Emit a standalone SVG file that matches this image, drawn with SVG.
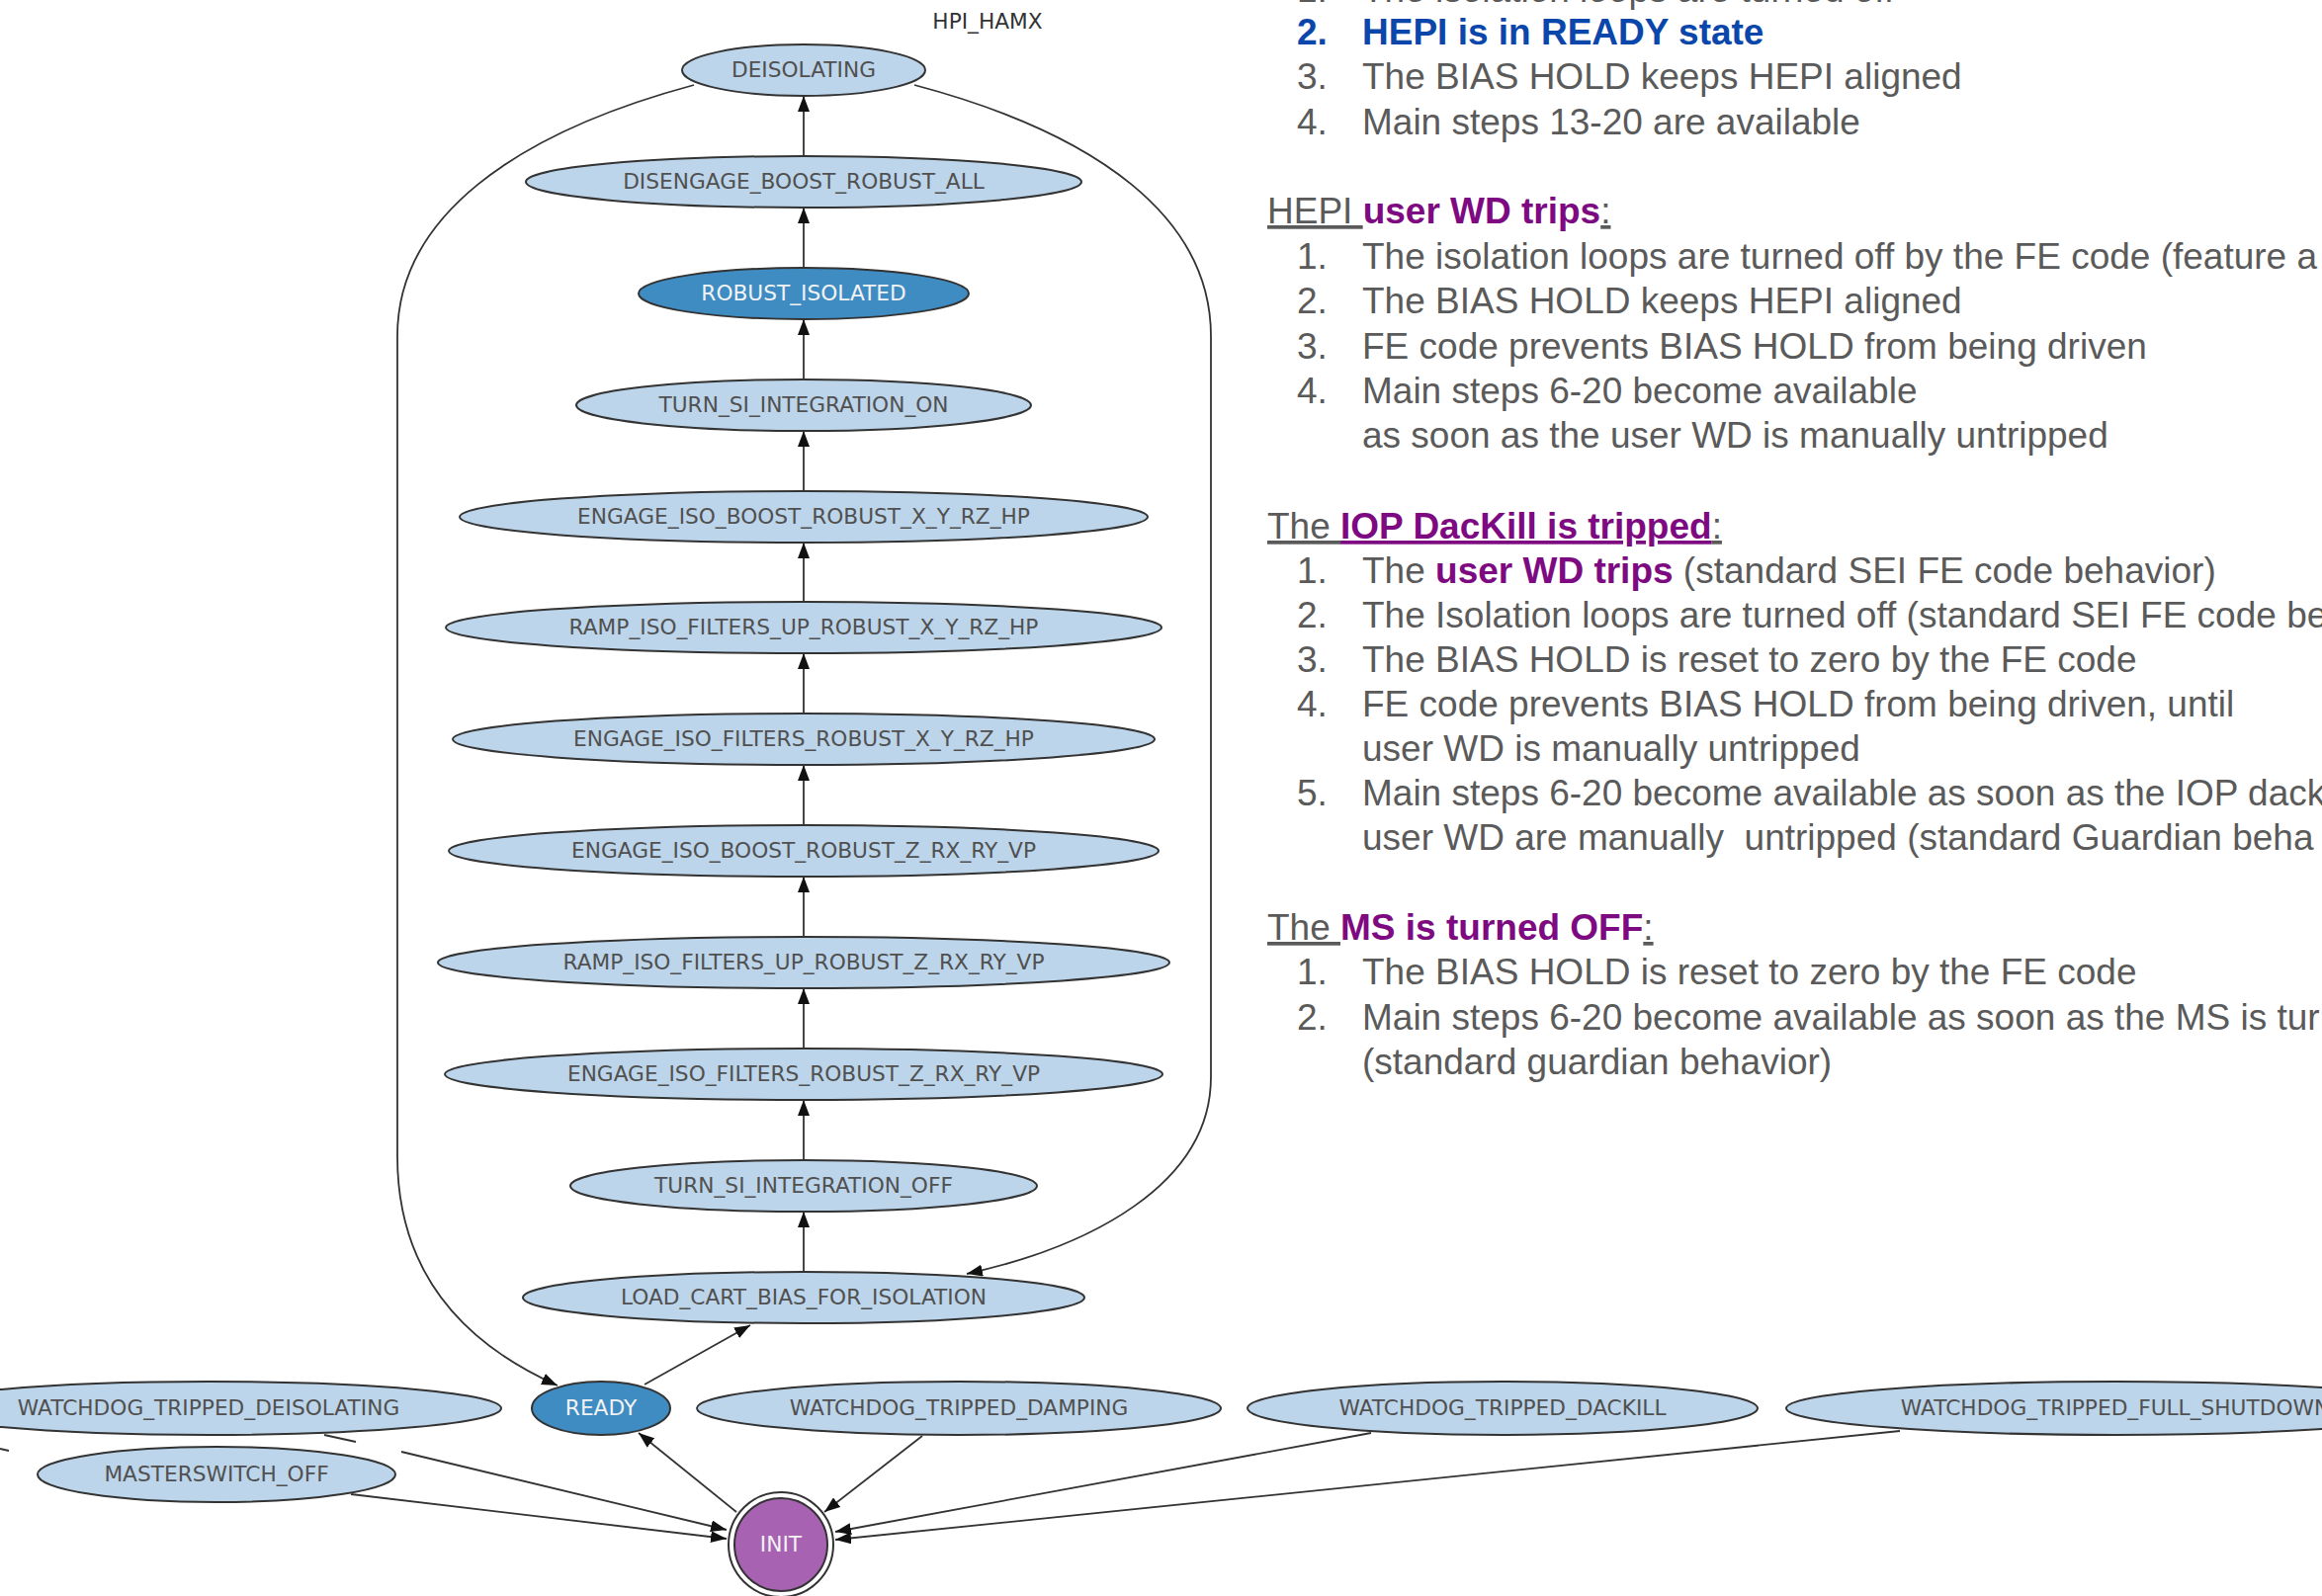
<svg xmlns="http://www.w3.org/2000/svg" width="2349" height="1615" viewBox="0 0 2349 1615">
  <style>
    .n ellipse, .n circle { stroke: #333; stroke-width: 2; }
    .lt { fill: #bcd5ea; }
    .dk { fill: #3f8cc3; }
    .pu { fill: #a862b2; }
    .lbl { font-family: "DejaVu Sans", Verdana, sans-serif; font-size: 21.7px; text-anchor: middle; fill: #505050; }
    .lbl.w { fill: #f2f2f2; }
    .title { font-family: "DejaVu Sans", Verdana, sans-serif; font-size: 21.7px; text-anchor: middle; fill: #333; }
    .e { fill: none; stroke: #333; stroke-width: 1.8; }
    .ea { fill: none; stroke: #333; stroke-width: 1.8; marker-end: url(#arr); }
    .tx { font-family: "Liberation Sans", Arial, Helvetica, sans-serif; font-size: 37px; fill: #5a5a5a; }
    .b { font-weight: bold; }
    .blue { fill: #0b46ab; }
    .pur { fill: #7e0a82; font-weight: bold; }
    .u { text-decoration: underline; }
  </style>
  <defs>
    <marker id="arr" viewBox="0 0 16 12" refX="16" refY="6" markerWidth="16" markerHeight="12" markerUnits="userSpaceOnUse" orient="auto">
      <path d="M0,0 L16,6 L0,12 z" fill="#111"/>
    </marker>
  </defs>
  <rect width="2349" height="1615" fill="#fff"/>

  <text class="title" x="999" y="29">HPI_HAMX</text>

  <!-- connectors -->
  <g id="edges">
    <line class="ea" x1="813" y1="158" x2="813" y2="97"/>
    <line class="ea" x1="813" y1="271" x2="813" y2="210"/>
    <line class="ea" x1="813" y1="384" x2="813" y2="323"/>
    <line class="ea" x1="813" y1="497" x2="813" y2="436"/>
    <line class="ea" x1="813" y1="609" x2="813" y2="549"/>
    <line class="ea" x1="813" y1="722" x2="813" y2="661"/>
    <line class="ea" x1="813" y1="835" x2="813" y2="774"/>
    <line class="ea" x1="813" y1="948" x2="813" y2="887"/>
    <line class="ea" x1="813" y1="1061" x2="813" y2="1000"/>
    <line class="ea" x1="813" y1="1174" x2="813" y2="1113"/>
    <line class="ea" x1="813" y1="1287" x2="813" y2="1226"/>
    <!-- DEISOLATING -> READY (left loop) -->
    <path class="ea" d="M702 86 C520 135 402 220 402 340 L402 1170 C402 1290 470 1360 564 1402"/>
    <!-- DEISOLATING -> LOAD_CART_BIAS_FOR_ISOLATION (right loop) -->
    <path class="ea" d="M925 86 C1110 135 1225 220 1225 340 L1225 1090 C1225 1200 1100 1262 978 1289"/>
    <!-- READY -> LOAD_CART_BIAS_FOR_ISOLATION -->
    <line class="ea" x1="652" y1="1401" x2="759" y2="1341"/>
    <!-- INIT -> READY -->
    <line class="ea" x1="745" y1="1530" x2="646" y2="1450"/>
    <!-- watchdog / masterswitch -> INIT -->
    <line class="ea" x1="933" y1="1453" x2="834" y2="1530"/>
    <path class="ea" d="M328 1452 L360 1459 M406 1469 L735 1548"/>
    <line class="ea" x1="355" y1="1512" x2="735" y2="1557"/>
    <line class="ea" x1="1387" y1="1450" x2="845" y2="1550"/>
    <line class="ea" x1="1922" y1="1448" x2="845" y2="1558"/>
    <line class="e" x1="0" y1="1466" x2="9" y2="1468"/>
  </g>

  <!-- state nodes -->
  <g id="DEISOLATING" class="n"><ellipse class="lt" cx="813" cy="71" rx="123" ry="26"/><text class="lbl" x="813" y="78">DEISOLATING</text></g>
  <g id="DISENGAGE_BOOST_ROBUST_ALL" class="n"><ellipse class="lt" cx="813" cy="184" rx="281" ry="26"/><text class="lbl" x="813" y="191">DISENGAGE_BOOST_ROBUST_ALL</text></g>
  <g id="ROBUST_ISOLATED" class="n"><ellipse class="dk" cx="813" cy="297" rx="167" ry="26"/><text class="lbl w" x="813" y="304">ROBUST_ISOLATED</text></g>
  <g id="TURN_SI_INTEGRATION_ON" class="n"><ellipse class="lt" cx="813" cy="410" rx="230" ry="26"/><text class="lbl" x="813" y="417">TURN_SI_INTEGRATION_ON</text></g>
  <g id="ENGAGE_ISO_BOOST_ROBUST_X_Y_RZ_HP" class="n"><ellipse class="lt" cx="813" cy="523" rx="348" ry="26"/><text class="lbl" x="813" y="530">ENGAGE_ISO_BOOST_ROBUST_X_Y_RZ_HP</text></g>
  <g id="RAMP_ISO_FILTERS_UP_ROBUST_X_Y_RZ_HP" class="n"><ellipse class="lt" cx="813" cy="635" rx="362" ry="26"/><text class="lbl" x="813" y="642">RAMP_ISO_FILTERS_UP_ROBUST_X_Y_RZ_HP</text></g>
  <g id="ENGAGE_ISO_FILTERS_ROBUST_X_Y_RZ_HP" class="n"><ellipse class="lt" cx="813" cy="748" rx="355" ry="26"/><text class="lbl" x="813" y="755">ENGAGE_ISO_FILTERS_ROBUST_X_Y_RZ_HP</text></g>
  <g id="ENGAGE_ISO_BOOST_ROBUST_Z_RX_RY_VP" class="n"><ellipse class="lt" cx="813" cy="861" rx="359" ry="26"/><text class="lbl" x="813" y="868">ENGAGE_ISO_BOOST_ROBUST_Z_RX_RY_VP</text></g>
  <g id="RAMP_ISO_FILTERS_UP_ROBUST_Z_RX_RY_VP" class="n"><ellipse class="lt" cx="813" cy="974" rx="370" ry="26"/><text class="lbl" x="813" y="981">RAMP_ISO_FILTERS_UP_ROBUST_Z_RX_RY_VP</text></g>
  <g id="ENGAGE_ISO_FILTERS_ROBUST_Z_RX_RY_VP" class="n"><ellipse class="lt" cx="813" cy="1087" rx="363" ry="26"/><text class="lbl" x="813" y="1094">ENGAGE_ISO_FILTERS_ROBUST_Z_RX_RY_VP</text></g>
  <g id="TURN_SI_INTEGRATION_OFF" class="n"><ellipse class="lt" cx="813" cy="1200" rx="236" ry="26"/><text class="lbl" x="813" y="1207">TURN_SI_INTEGRATION_OFF</text></g>
  <g id="LOAD_CART_BIAS_FOR_ISOLATION" class="n"><ellipse class="lt" cx="813" cy="1313" rx="284" ry="26"/><text class="lbl" x="813" y="1320">LOAD_CART_BIAS_FOR_ISOLATION</text></g>

  <g id="WATCHDOG_TRIPPED_DEISOLATING" class="n"><ellipse class="lt" cx="211" cy="1425" rx="296" ry="27"/><text class="lbl" x="211" y="1432">WATCHDOG_TRIPPED_DEISOLATING</text></g>
  <g id="READY" class="n"><ellipse class="dk" cx="608" cy="1425" rx="70" ry="27"/><text class="lbl w" x="608" y="1432">READY</text></g>
  <g id="WATCHDOG_TRIPPED_DAMPING" class="n"><ellipse class="lt" cx="970" cy="1425" rx="265" ry="27"/><text class="lbl" x="970" y="1432">WATCHDOG_TRIPPED_DAMPING</text></g>
  <g id="WATCHDOG_TRIPPED_DACKILL" class="n"><ellipse class="lt" cx="1520" cy="1425" rx="258" ry="27"/><text class="lbl" x="1520" y="1432">WATCHDOG_TRIPPED_DACKILL</text></g>
  <g id="WATCHDOG_TRIPPED_FULL_SHUTDOWN" class="n"><ellipse class="lt" cx="2140" cy="1425" rx="333" ry="27"/><text class="lbl" x="2140" y="1432">WATCHDOG_TRIPPED_FULL_SHUTDOWN</text></g>
  <g id="MASTERSWITCH_OFF" class="n"><ellipse class="lt" cx="219" cy="1492" rx="181" ry="28"/><text class="lbl" x="219" y="1499">MASTERSWITCH_OFF</text></g>
  <g id="INIT" class="n">
    <circle cx="790" cy="1563" r="53" fill="#fff"/>
    <circle class="pu" cx="790" cy="1563" r="47"/>
    <text class="lbl w" x="790" y="1570">INIT</text>
  </g>

  <!-- notes -->
  <g id="notes" class="tx">
    <text x="1312" y="2">1.</text><text x="1378" y="2">The isolation loops are turned off</text>
    <text x="1312" y="45" class="b blue">2.</text><text x="1378" y="45" class="b blue">HEPI is in READY state</text>
    <text x="1312" y="90">3.</text><text x="1378" y="90">The BIAS HOLD keeps HEPI aligned</text>
    <text x="1312" y="136">4.</text><text x="1378" y="136">Main steps 13-20 are available</text>

    <text x="1282" y="226"><tspan class="u">HEPI </tspan><tspan class="pur">user WD trips</tspan><tspan class="u">:</tspan></text>
    <text x="1312" y="272">1.</text><text x="1378" y="272">The isolation loops are turned off by the FE code (feature a</text>
    <text x="1312" y="317">2.</text><text x="1378" y="317">The BIAS HOLD keeps HEPI aligned</text>
    <text x="1312" y="363">3.</text><text x="1378" y="363">FE code prevents BIAS HOLD from being driven</text>
    <text x="1312" y="408">4.</text><text x="1378" y="408">Main steps 6-20 become available</text>
    <text x="1378" y="453">as soon as the user WD is manually untripped</text>

    <text x="1282" y="545"><tspan class="u">The </tspan><tspan class="pur u">IOP DacKill is tripped</tspan><tspan class="u">:</tspan></text>
    <text x="1312" y="590">1.</text><text x="1378" y="590">The <tspan class="pur">user WD trips</tspan> (standard SEI FE code behavior)</text>
    <text x="1312" y="635">2.</text><text x="1378" y="635">The Isolation loops are turned off (standard SEI FE code be</text>
    <text x="1312" y="680">3.</text><text x="1378" y="680">The BIAS HOLD is reset to zero by the FE code</text>
    <text x="1312" y="725">4.</text><text x="1378" y="725">FE code prevents BIAS HOLD from being driven, until</text>
    <text x="1378" y="770">user WD is manually untripped</text>
    <text x="1312" y="815">5.</text><text x="1378" y="815">Main steps 6-20 become available as soon as the IOP dack</text>
    <text x="1378" y="860" xml:space="preserve">user WD are manually  untripped (standard Guardian beha</text>

    <text x="1282" y="951"><tspan class="u">The </tspan><tspan class="pur">MS is turned OFF</tspan><tspan class="u">:</tspan></text>
    <text x="1312" y="996">1.</text><text x="1378" y="996">The BIAS HOLD is reset to zero by the FE code</text>
    <text x="1312" y="1042">2.</text><text x="1378" y="1042">Main steps 6-20 become available as soon as the MS is tur</text>
    <text x="1378" y="1087">(standard guardian behavior)</text>
  </g>
</svg>
